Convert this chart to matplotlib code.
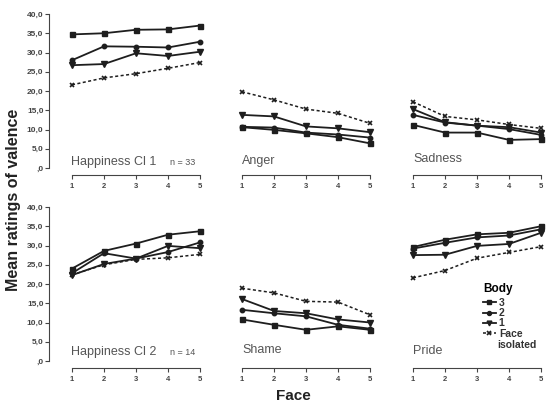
import matplotlib.pyplot as plt
import numpy as np

plt.rcParams['font.family'] = ['Liberation Sans', 'DejaVu Sans']

faces = [1, 2, 3, 4, 5]
panels = ['Happiness Cl 1', 'Anger', 'Sadness', 'Happiness Cl 2', 'Shame', 'Pride']
n_notes = {'Happiness Cl 1': 'n = 33', 'Happiness Cl 2': 'n = 14'}

# mean ratings per panel, order: body 3, body 2, body 1, face isolated
body3 = {
    'Happiness Cl 1': [34.7, 35.0, 35.9, 36.0, 37.0],
    'Anger':          [10.6, 9.9, 9.0, 8.0, 6.4],
    'Sadness':        [11.2, 9.2, 9.2, 7.3, 7.5],
    'Happiness Cl 2': [24.0, 28.6, 30.5, 32.8, 33.7],
    'Shame':          [10.8, 9.4, 8.1, 9.0, 8.1],
    'Pride':          [29.6, 31.5, 32.9, 33.3, 35.0],
}
body2 = {
    'Happiness Cl 1': [28.0, 31.6, 31.5, 31.3, 32.8],
    'Anger':          [10.7, 10.5, 9.2, 8.7, 7.9],
    'Sadness':        [13.8, 11.8, 11.0, 10.1, 8.6],
    'Happiness Cl 2': [22.8, 28.0, 26.6, 28.3, 30.8],
    'Shame':          [13.3, 12.4, 11.6, 9.4, 8.4],
    'Pride':          [29.2, 30.7, 32.1, 32.6, 34.2],
}
body1 = {
    'Happiness Cl 1': [26.7, 27.0, 29.8, 29.1, 30.2],
    'Anger':          [13.8, 13.4, 10.8, 10.3, 9.3],
    'Sadness':        [15.3, 11.9, 11.0, 10.6, 9.2],
    'Happiness Cl 2': [22.3, 25.2, 26.6, 29.9, 29.3],
    'Shame':          [16.1, 13.0, 12.4, 10.8, 10.0],
    'Pride':          [27.5, 27.6, 29.9, 30.4, 33.3],
}
face_only = {
    'Happiness Cl 1': [21.6, 23.4, 24.5, 25.9, 27.4],
    'Anger':          [19.8, 17.7, 15.3, 14.2, 11.6],
    'Sadness':        [17.2, 13.4, 12.5, 11.3, 10.3],
    'Happiness Cl 2': [22.4, 25.0, 26.4, 26.8, 27.7],
    'Shame':          [18.9, 17.7, 15.5, 15.3, 12.0],
    'Pride':          [21.6, 23.5, 26.7, 28.2, 29.7],
}
yticks = [0, 5, 10, 15, 20, 25, 30, 35, 40]
yticklabels = [',0', '5,0', '10,0', '15,0', '20,0', '25,0', '30,0', '35,0', '40,0']
title_y = {'Happiness Cl 1': 0.8, 'Anger': 1.0, 'Sadness': 1.6,
           'Happiness Cl 2': 1.6, 'Shame': 2.0, 'Pride': 1.7}

W, H = 546, 404
fig = plt.figure(figsize=(W / 100, H / 100), dpi=100)

col_x1 = [72, 242, 413]      # pixel of face = 1
row_y0 = [168, 361]          # pixel of rating = 0
px_per_face = 32.0
ypx = 154

col = '#1e1e1e'
axes = []
for i, name in enumerate(panels):
    r, c = divmod(i, 3)
    left = col_x1[c] - 23
    ax = fig.add_axes([left / W, (H - row_y0[r]) / H, 154 / W, ypx / H])
    ax.set_xlim(1 - 23 / px_per_face, 1 + 131 / px_per_face)
    ax.set_ylim(0, 40)
    ax.patch.set_alpha(0)

    ax.plot(faces, body3[name], '-s', color=col, lw=1.3, ms=3.6, clip_on=False, label='3')
    ax.plot(faces, body2[name], '-o', color=col, lw=1.3, ms=3.2, clip_on=False, label='2')
    ax.plot(faces, body1[name], '-v', color=col, lw=1.3, ms=3.8, clip_on=False, label='1')
    ax.plot(faces, face_only[name], '--x', color=col, lw=1.1, ms=3.4, mew=1.2,
            dashes=(2, 1.6), clip_on=False, label='Face')

    ax.text(1 if c else 0.97, title_y[name], name, fontsize=9, color='#555555', va='baseline')
    if name in n_notes:
        ax.text(4.05, title_y[name], n_notes[name], fontsize=6.5, color='#555555', va='baseline')

    for s in ['top', 'right']:
        ax.spines[s].set_visible(False)
    ax.spines['bottom'].set_position(('outward', 5))
    ax.spines['bottom'].set_bounds(1, 5)
    ax.spines['bottom'].set_color('#444444')
    ax.set_xticks(faces)
    ax.set_xticklabels([str(f) for f in faces])
    ax.tick_params(axis='x', length=3, width=0.8, colors='#444444', labelsize=5.5, pad=3)
    if c == 0:
        ax.spines['left'].set_color('#444444')
        ax.set_yticks(yticks)
        ax.set_yticklabels(yticklabels)
        ax.tick_params(axis='y', length=3, width=0.8, colors='#444444', labelsize=6, pad=1)
        for t in ax.get_yticklabels() + ax.get_xticklabels():
            t.set_fontweight('bold')
    else:
        ax.spines['left'].set_visible(False)
        ax.set_yticks([])
        for t in ax.get_xticklabels():
            t.set_fontweight('bold')
    axes.append(ax)

leg = axes[5].legend(title='Body', loc='upper left', bbox_to_anchor=(478 / W, (H - 278) / H),
                     bbox_transform=fig.transFigure, frameon=False, fontsize=7.5,
                     handlelength=1.2, handletextpad=0.3, labelspacing=0.02,
                     borderpad=0, markerscale=0.9)
leg.get_title().set_fontweight('bold')
leg.get_title().set_fontsize(8.5)
leg._legend_box.align = 'left'
leg._legend_box.sep = 2
for t in leg.get_texts():
    t.set_fontweight('bold')
    t.set_color('#333333')
fig.text(497 / W, 1 - 345 / H, 'isolated', fontsize=7.5, fontweight='bold',
         color='#333333', va='center', ha='left')

fig.text(14 / W, 1 - 200 / H, 'Mean ratings of valence', rotation=90, fontsize=11.5,
         fontweight='bold', ha='center', va='center', color='#222222')
fig.text(293 / W, 1 - 396 / H, 'Face', fontsize=11, fontweight='bold',
         ha='center', va='center', color='#222222')

fig.savefig('out.png', dpi=100)
